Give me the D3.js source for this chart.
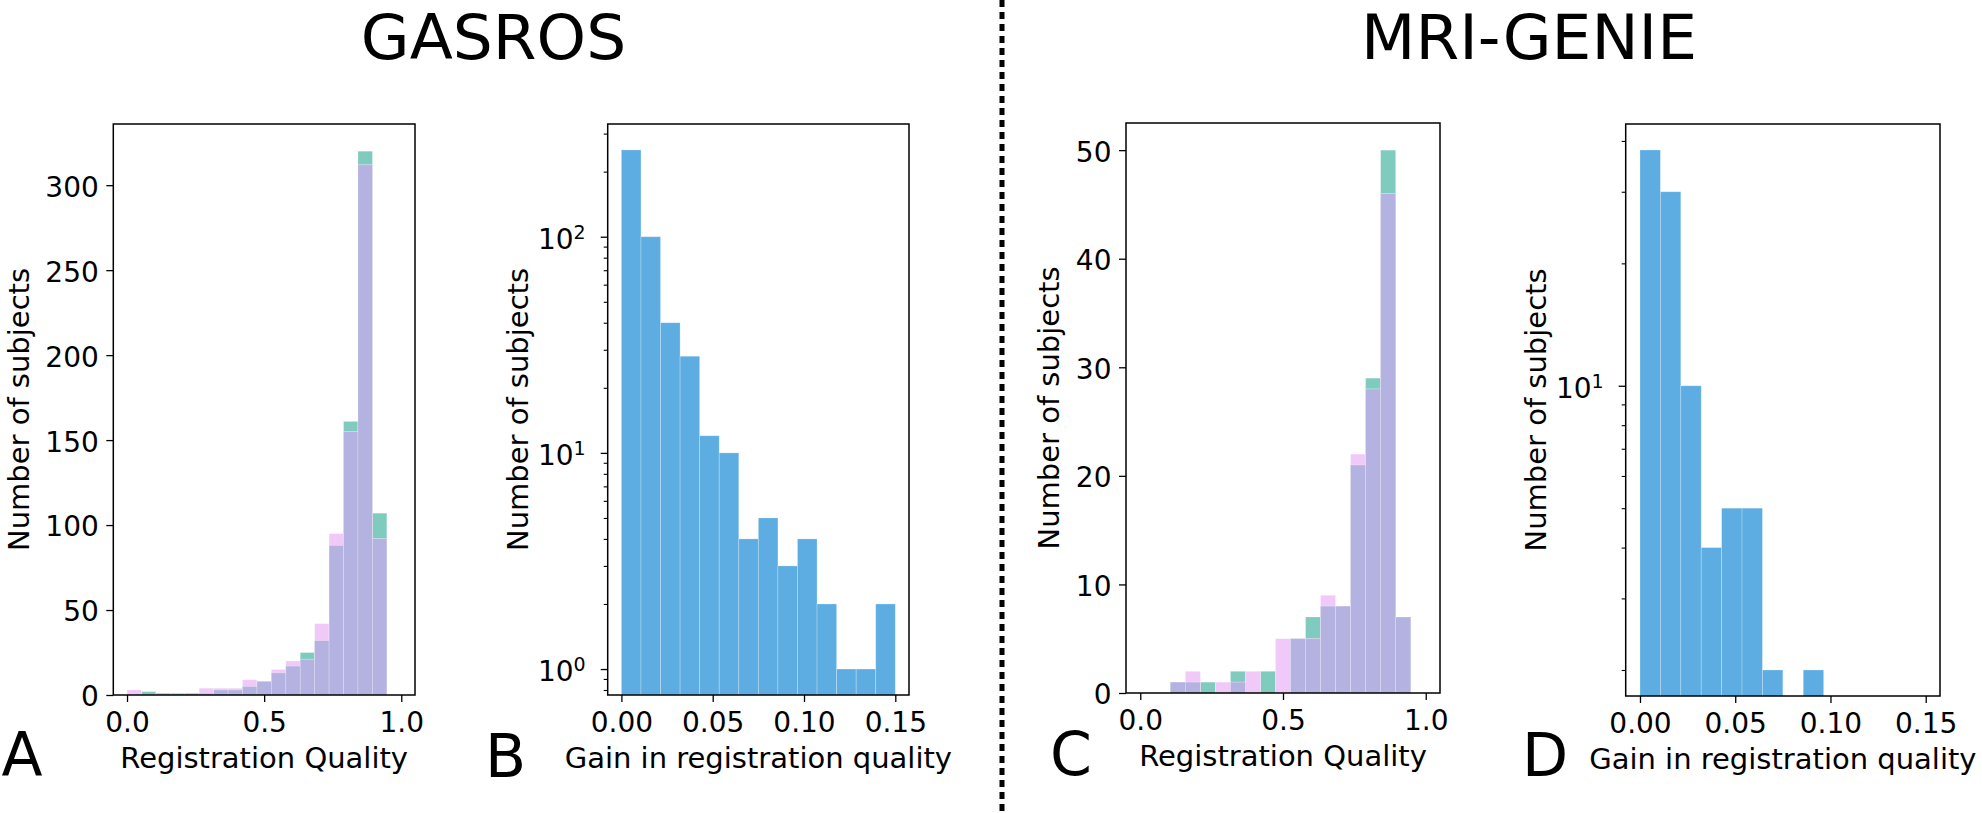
<!DOCTYPE html>
<html><head><meta charset="utf-8">
<script src="https://cdn.jsdelivr.net/npm/d3@7"></script>
<style>
html,body{margin:0;padding:0;background:#fff;}
svg text{font-family:"DejaVu Sans",sans-serif;fill:#000;}
</style></head><body>
<svg id="chart" width="1982" height="813"></svg>
<script>
// ---------------- DATA ----------------
const qualityRange = [0, 1];      // registration quality histogram range
const qualityBins = 19;
const gainRange = [0, 0.15];      // gain histogram range
const gainBins = 14;

// GASROS (panel A: two overlapping histograms, panel B: gain, log scale)
const gasrosTeal = [0,2,1,1,1,1,3,3,5,8,13,17,25,32,88,161,320,107,0];
const gasrosPink = [3,0,1,0,1,4,4,4,9,8,15,20,21,42,95,155,312,92,0];
const gasrosGain = [252,100,40,28,12,10,4,5,3,4,2,1,1,2];

// MRI-GENIE (panel C, panel D)
const genieTeal = [0,0,1,1,1,0,2,0,2,0,5,7,8,8,21,29,50,7,0];
const geniePink = [0,0,1,2,0,1,1,2,0,5,5,5,9,8,22,28,46,7,0];
const genieGain = [38,30,10,4,5,5,2,0,2,0,0,0,0,0];

const qualityTicks = [0, 0.5, 1.0];
const qualityTickLabels = ["0.0", "0.5", "1.0"];
const gainTicks = [0, 0.05, 0.10, 0.15];
const gainTickLabels = ["0.00", "0.05", "0.10", "0.15"];
const countTicksA = [0, 50, 100, 150, 200, 250, 300];
const countTicksC = [0, 10, 20, 30, 40, 50];
const logMajorB = [1, 10, 100];
const logMajorD = [10];

const groupTitles = ["GASROS", "MRI-GENIE"];
const panelLetters = ["A", "B", "C", "D"];
const xLabels = ["Registration Quality", "Gain in registration quality", "Registration Quality", "Gain in registration quality"];
const yLabel = "Number of subjects";

// ---------------- STYLE / LAYOUT ----------------
const COL = {teal: "#7fcbbd", pink: "#f0c9f8", both: "#b3b2e0", blue: "#5dade2"};
const TICK_FS = 28, LABEL_FS = 29;

const svg = d3.select("#chart");

function edges(range, n) {
  return d3.range(n + 1).map(i => range[0] + i * (range[1] - range[0]) / n);
}

function linearDomain(range) {
  const pad = (range[1] - range[0]) * 0.05;
  return [range[0] - pad, range[1] + pad];
}

function frame(g, L, R, T, B) {
  g.append("rect").attr("x", L).attr("y", T).attr("width", R - L).attr("height", B - T)
    .attr("fill", "none").attr("stroke", "#000").attr("stroke-width", 1.5);
}

function xAxis(g, x, B, ticks, labels, labelText, labelBase) {
  const ax = g.append("g").attr("transform", `translate(0,${B})`)
    .call(d3.axisBottom(x).tickValues(ticks).tickSize(7).tickPadding(10.5)
      .tickFormat((d, i) => labels[i]));
  ax.select(".domain").remove();
  ax.selectAll(".tick line").attr("stroke", "#000").attr("stroke-width", 1.3);
  ax.selectAll(".tick text").attr("font-size", TICK_FS).attr("font-family", "DejaVu Sans");
  const x0 = x.range()[0], x1 = x.range()[1];
  g.append("text").attr("x", (x0 + x1) / 2).attr("y", labelBase)
    .attr("text-anchor", "middle").attr("font-size", LABEL_FS).text(labelText);
}

function yLabelText(g, xb, T, B) {
  g.append("text").attr("transform", `translate(${xb},${(T + B) / 2}) rotate(-90)`)
    .attr("text-anchor", "middle").attr("font-size", LABEL_FS).text(yLabel);
}

function linearY(g, y, L, ticks) {
  const ax = g.append("g").attr("transform", `translate(${L},0)`)
    .call(d3.axisLeft(y).tickValues(ticks).tickSize(7).tickPadding(7.5));
  ax.select(".domain").remove();
  ax.selectAll(".tick line").attr("stroke", "#000").attr("stroke-width", 1.3);
  ax.selectAll(".tick text").attr("font-size", TICK_FS).attr("dy", "0.39em");
}

function logY(g, y, L, majors) {
  const [d0, d1] = y.domain();
  const minors = [];
  for (let e = Math.floor(Math.log10(d0)); e <= Math.ceil(Math.log10(d1)); e++) {
    for (let k = 2; k <= 9; k++) {
      const v = k * Math.pow(10, e);
      if (v >= d0 && v <= d1) minors.push(v);
    }
  }
  const mi = g.append("g").attr("transform", `translate(${L},0)`)
    .call(d3.axisLeft(y).tickValues(minors).tickSize(4).tickFormat(""));
  mi.select(".domain").remove();
  mi.selectAll(".tick line").attr("stroke", "#000").attr("stroke-width", 1.1);
  const ma = g.append("g").attr("transform", `translate(${L},0)`)
    .call(d3.axisLeft(y).tickValues(majors).tickSize(7).tickFormat(""));
  ma.select(".domain").remove();
  ma.selectAll(".tick line").attr("stroke", "#000").attr("stroke-width", 1.3);
  majors.forEach(v => {
    const t = g.append("text").attr("x", L - 22).attr("y", y(v) + 12)
      .attr("text-anchor", "end").attr("font-size", TICK_FS);
    t.append("tspan").text("10");
    t.append("tspan").attr("dy", -10).attr("font-size", 19).text(String(Math.round(Math.log10(v))));
  });
}

function overlayHist(g, x, y, teal, pink, range, n) {
  const e = edges(range, n);
  const data = teal.map((t, i) => ({x0: e[i], x1: e[i + 1], teal: t, pink: pink[i], both: Math.min(t, pink[i])}));
  [["teal", COL.teal], ["pink", COL.pink], ["both", COL.both]].forEach(([k, c]) => {
    g.append("g").selectAll("rect").data(data.filter(d => d[k] > 0)).join("rect")
      .attr("x", d => x(d.x0)).attr("width", d => x(d.x1) - x(d.x0))
      .attr("y", d => y(d[k])).attr("height", d => y(0) - y(d[k]))
      .attr("fill", c).attr("stroke", "rgba(255,255,255,0.3)").attr("stroke-width", 0.8);
  });
}

function logHist(g, x, y, counts, range, n, B) {
  const e = edges(range, n);
  const data = counts.map((c, i) => ({x0: e[i], x1: e[i + 1], c}));
  g.append("g").selectAll("rect").data(data.filter(d => d.c > 0)).join("rect")
    .attr("x", d => x(d.x0)).attr("width", d => x(d.x1) - x(d.x0))
    .attr("y", d => y(d.c)).attr("height", d => B - y(d.c))
    .attr("fill", COL.blue).attr("stroke", "rgba(255,255,255,0.3)").attr("stroke-width", 0.8);
}

function logDomain(counts) {
  const pos = counts.filter(c => c > 0);
  const lo = Math.log10(d3.min(pos)), hi = Math.log10(d3.max(pos));
  const pad = (hi - lo) * 0.05;
  return [Math.pow(10, lo - pad), Math.pow(10, hi + pad)];
}

// ---------------- PANELS ----------------
const P = {
  A: {L: 113.3, R: 415, T: 124, B: 695, yl: 29.4, lx: 1.5, ly: 775},
  B: {L: 607.7, R: 909, T: 124, B: 695, yl: 527.8, lx: 485, ly: 776.5},
  C: {L: 1126, R: 1440, T: 123, B: 693, yl: 1059.4, lx: 1050, ly: 775},
  D: {L: 1625.7, R: 1940, T: 124, B: 696, yl: 1546, lx: 1522, ly: 776}
};

// Panel A
(function () {
  const p = P.A, g = svg.append("g");
  const x = d3.scaleLinear().domain(linearDomain(qualityRange)).range([p.L, p.R]);
  const y = d3.scaleLinear().domain([0, d3.max(gasrosTeal.concat(gasrosPink)) * 1.05]).range([p.B, p.T]);
  overlayHist(g, x, y, gasrosTeal, gasrosPink, qualityRange, qualityBins);
  frame(g, p.L, p.R, p.T, p.B);
  xAxis(g, x, p.B, qualityTicks, qualityTickLabels, xLabels[0], p.B + 73.3);
  linearY(g, y, p.L, countTicksA);
  yLabelText(g, p.yl, p.T, p.B);
})();

// Panel B
(function () {
  const p = P.B, g = svg.append("g");
  const x = d3.scaleLinear().domain(linearDomain(gainRange)).range([p.L, p.R]);
  const y = d3.scaleLog().domain(logDomain(gasrosGain)).range([p.B, p.T]);
  logHist(g, x, y, gasrosGain, gainRange, gainBins, p.B);
  frame(g, p.L, p.R, p.T, p.B);
  xAxis(g, x, p.B, gainTicks, gainTickLabels, xLabels[1], p.B + 73.3);
  logY(g, y, p.L, logMajorB);
  yLabelText(g, p.yl, p.T, p.B);
})();

// Panel C
(function () {
  const p = P.C, g = svg.append("g");
  const x = d3.scaleLinear().domain(linearDomain(qualityRange)).range([p.L, p.R]);
  const y = d3.scaleLinear().domain([0, d3.max(genieTeal.concat(geniePink)) * 1.05]).range([p.B, p.T]);
  overlayHist(g, x, y, genieTeal, geniePink, qualityRange, qualityBins);
  frame(g, p.L, p.R, p.T, p.B);
  xAxis(g, x, p.B, qualityTicks, qualityTickLabels, xLabels[2], p.B + 73.3);
  linearY(g, y, p.L, countTicksC);
  yLabelText(g, p.yl, p.T, p.B);
})();

// Panel D
(function () {
  const p = P.D, g = svg.append("g");
  const x = d3.scaleLinear().domain(linearDomain(gainRange)).range([p.L, p.R]);
  const y = d3.scaleLog().domain(logDomain(genieGain)).range([p.B, p.T]);
  logHist(g, x, y, genieGain, gainRange, gainBins, p.B);
  frame(g, p.L, p.R, p.T, p.B);
  xAxis(g, x, p.B, gainTicks, gainTickLabels, xLabels[3], p.B + 73.3);
  logY(g, y, p.L, logMajorD);
  yLabelText(g, p.yl, p.T, p.B);
})();

// Panel letters
panelLetters.forEach(k => {
  const p = P[k];
  svg.append("text").attr("x", p.lx).attr("y", p.ly).attr("font-size", 60).text(k);
});

// Group titles
svg.append("text").attr("x", 493.5).attr("y", 59.3).attr("text-anchor", "middle").attr("font-size", 63).text(groupTitles[0]);
svg.append("text").attr("x", 1529).attr("y", 59.3).attr("text-anchor", "middle").attr("font-size", 63).text(groupTitles[1]);

// Divider
svg.append("line").attr("x1", 1002).attr("x2", 1002).attr("y1", 0).attr("y2", 813)
  .attr("stroke", "#000").attr("stroke-width", 5).attr("stroke-dasharray", "7 5");
</script>
</body></html>
